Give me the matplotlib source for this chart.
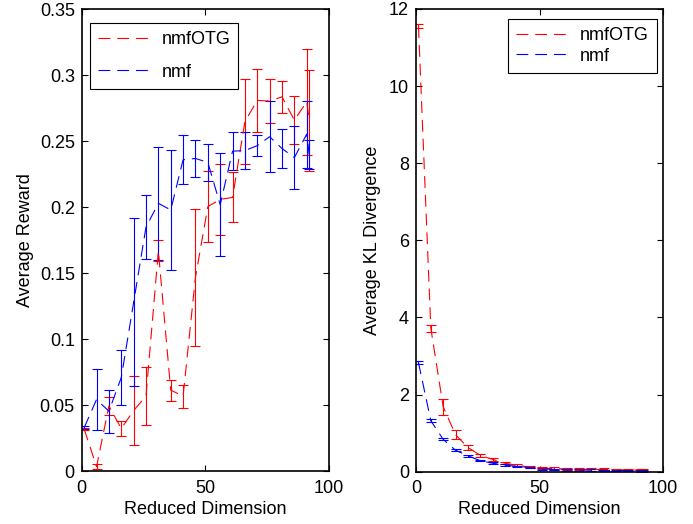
import matplotlib
matplotlib.use("Agg")
import matplotlib.pyplot as plt

plt.rcParams['font.family'] = ['Liberation Sans', 'DejaVu Sans']
plt.rcParams['font.size'] = 13
plt.rcParams['lines.scale_dashes'] = False

# Reduced dimensions evaluated
dims = [1, 6, 11, 16, 21, 26, 31, 36, 41, 46, 51, 56, 61, 66, 71, 76, 81, 86, 91, 92]

# Average reward (mean and error) per method
reward_otg = [0.032, 0.0035, 0.0495, 0.0324, 0.046, 0.057, 0.167, 0.0615, 0.057, 0.147,
              0.2005, 0.206, 0.2075, 0.265, 0.281, 0.2805, 0.2837, 0.266, 0.28, 0.2657]
reward_otg_err = [0.001, 0.002, 0.007, 0.006, 0.026, 0.022, 0.008, 0.008, 0.0087, 0.052,
                  0.027, 0.027, 0.019, 0.032, 0.024, 0.0167, 0.0123, 0.018, 0.04, 0.038]
reward_nmf = [0.033, 0.0544, 0.0455, 0.071, 0.128, 0.185, 0.203, 0.198, 0.236, 0.237,
              0.234, 0.202, 0.2425, 0.243, 0.2467, 0.2535, 0.2445, 0.2377, 0.2554, 0.240]
reward_nmf_err = [0.001, 0.023, 0.0163, 0.0206, 0.0636, 0.024, 0.043, 0.0453, 0.0185, 0.014,
                  0.0137, 0.039, 0.0143, 0.014, 0.0077, 0.027, 0.0148, 0.0236, 0.0254, 0.0108]

# Average KL divergence (mean and error) per method
kl_otg = [11.55, 3.72, 1.685, 0.96, 0.63, 0.425, 0.32, 0.22, 0.165, 0.12,
          0.09, 0.08, 0.07, 0.065, 0.06, 0.055, 0.05, 0.045, 0.04, 0.04]
kl_otg_err = [0.05, 0.09, 0.21, 0.12, 0.06, 0.04, 0.03, 0.03, 0.03, 0.03,
              0.03, 0.03, 0.03, 0.03, 0.03, 0.03, 0.03, 0.03, 0.03, 0.03]
kl_nmf = [2.83, 1.32, 0.84, 0.555, 0.415, 0.285, 0.22, 0.17, 0.14, 0.105,
          0.07, 0.06, 0.05, 0.045, 0.04, 0.035, 0.03, 0.03, 0.025, 0.025]
kl_nmf_err = [0.05, 0.04, 0.03, 0.03, 0.03, 0.02, 0.02, 0.02, 0.02, 0.02,
              0.02, 0.02, 0.02, 0.02, 0.02, 0.02, 0.02, 0.02, 0.02, 0.02]

reward_ticks = [0, 0.05, 0.1, 0.15, 0.2, 0.25, 0.3, 0.35]
reward_tick_labels = ['0', '0.05', '0.1', '0.15', '0.2', '0.25', '0.3', '0.35']
kl_ticks = [0, 2, 4, 6, 8, 10, 12]
x_ticks = [0, 50, 100]

W, H = 693, 524
fig = plt.figure(figsize=(W / 100, H / 100), dpi=100)
ax1 = fig.add_axes([81.7 / W, (H - 471.3) / H, (329 - 81.7) / W, (471.3 - 9.3) / H])
ax2 = fig.add_axes([416 / W, (H - 471.7) / H, (663 - 416) / W, (471.7 - 8.9) / H])

dash = (0, (8.5, 5.0))


def draw(ax, y1, e1, y2, e2):
    for y, e, c, lab in ((y1, e1, 'r', 'nmfOTG'), (y2, e2, 'b', 'nmf')):
        ax.errorbar(dims, y, yerr=e, color=c, linestyle=dash, linewidth=0.8,
                    elinewidth=0.8, capsize=3.5, capthick=0.8, label=lab)
    ax.tick_params(direction='in', top=True, right=True, length=4, width=0.8,
                   labelsize=13, pad=5)
    ax.tick_params(axis='x', pad=6)
    for s in ax.spines.values():
        s.set_linewidth(1.2)
    ax.set_xlim(0, 100)
    ax.set_xticks(x_ticks)
    ax.set_xlabel('Reduced Dimension', fontsize=13, labelpad=3)


draw(ax1, reward_otg, reward_otg_err, reward_nmf, reward_nmf_err)
ax1.set_ylim(0, 0.35)
ax1.set_yticks(reward_ticks)
ax1.set_yticklabels(reward_tick_labels)
ax1.set_ylabel('Average Reward', fontsize=13, labelpad=4)

draw(ax2, kl_otg, kl_otg_err, kl_nmf, kl_nmf_err)
ax2.set_ylim(0, 12)
ax2.set_yticks(kl_ticks)
ax2.set_ylabel('Average KL Divergence', fontsize=13, labelpad=6)


def legend(ax, box, spacing):
    h, l = ax.get_legend_handles_labels()
    h = [x[0] for x in h]
    lg = ax.legend(h, l, loc='upper left', bbox_to_anchor=box, bbox_transform=fig.transFigure,
                   mode='expand', fancybox=False, framealpha=1, edgecolor='black',
                   handlelength=3.1, handletextpad=0.4, labelspacing=spacing,
                   borderpad=0.45, borderaxespad=0, fontsize=13)
    lg.get_frame().set_linewidth(0.8)


legend(ax1, (90 / W, 1 - 23.3 / H, (238.3 - 90) / W, 0), 0.85)
legend(ax2, (508.3 / W, 1 - 19 / H, (656.7 - 508.3) / W, 0), 0.2)

fig.savefig('out.png', dpi=100)
